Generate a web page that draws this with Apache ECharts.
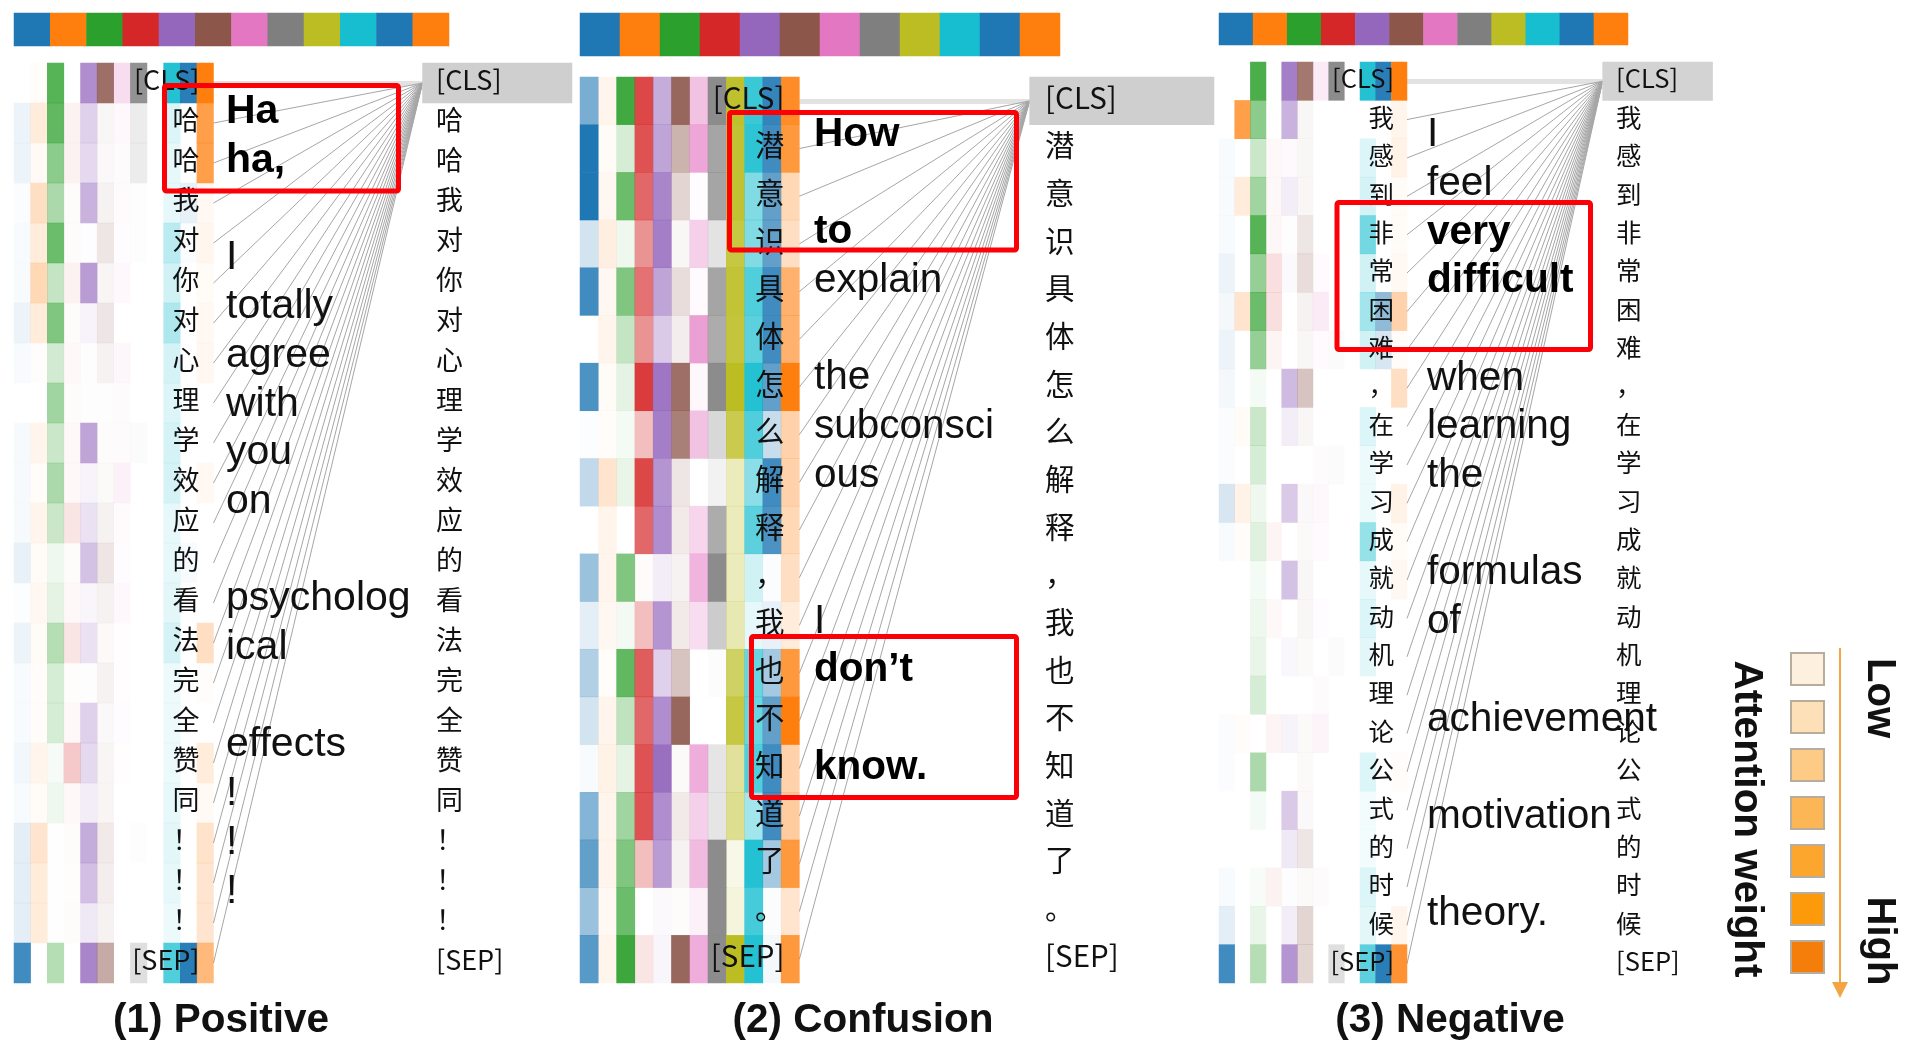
<!DOCTYPE html>
<html><head><meta charset="utf-8">
<style>html,body{margin:0;padding:0;background:#fff}#c{width:1910px;height:1049px}</style>
<script src="https://cdn.jsdelivr.net/npm/echarts@6/dist/echarts.min.js"></script>
</head><body><div id="c"></div>
<script>
const tabColors = ['#1f77b4','#ff7f0e','#2ca02c','#d62728','#9467bd','#8c564b','#e377c2','#7f7f7f','#bcbd22','#17becf','#1f77b4','#ff7f0e'];
const columnNames = ['c0','c1','c2','c3','c4','c5','c6','c7','c8','c9','c10','c11'];

const positiveTokens = ['[CLS]','哈','哈','我','对','你','对','心','理','学','效','应','的','看','法','完','全','赞','同','！','！','！','[SEP]'];
const positiveWords = ['Ha','ha,','','I','totally','agree','with','you','on','','psycholog','ical','','effects','!','!','!'];
const positiveBold = ['Ha','ha,'];
const positiveWeights = [
[0,2,80,0,75,85,25,85,0,95,95,100],
[8,15,75,6,30,5,5,15,0,15,0,75],
[8,4,55,6,25,4,3,15,0,10,0,75],
[2,25,40,2,50,8,3,1,0,10,10,5],
[3,15,70,2,2,15,2,1,0,30,2,7],
[3,30,28,6,65,6,5,0,0,20,0,3],
[8,15,60,2,8,15,0,0,0,35,0,5],
[3,1,22,3,1,8,6,0,0,18,0,6],
[0,0,45,2,1,1,3,0,0,15,0,0],
[4,8,25,3,60,2,3,3,0,18,0,0],
[4,2,40,3,8,3,10,0,0,18,0,5],
[4,8,25,12,20,8,3,0,0,10,0,0],
[10,3,8,2,40,15,2,0,0,10,3,0],
[1,6,12,3,6,8,5,0,0,12,0,0],
[8,3,35,12,20,3,1,0,0,18,0,25],
[3,2,20,1,1,8,1,0,0,8,0,1],
[3,2,20,3,30,4,2,0,0,8,0,0],
[6,8,4,25,25,6,1,0,0,8,0,15],
[3,3,8,3,12,6,0,0,0,10,0,4],
[12,20,1,2,55,12,0,1,0,12,0,22],
[12,15,1,1,42,10,0,0,0,10,0,20],
[12,15,1,2,15,8,0,0,0,8,0,20],
[85,0,35,0,80,50,0,25,0,75,95,55]];

const confusionTokens = ['[CLS]','潜','意','识','具','体','怎','么','解','释','，','我','也','不','知','道','了','。','[SEP]'];
const confusionWords = ['How','','to','explain','','the','subconsci','ous','','','I','don’t','','know.'];
const confusionBold = ['How','to','don’t','know.'];
const confusionWeights = [
[60,8,90,85,55,90,45,90,95,85,90,90],
[100,3,20,80,60,45,65,70,92,90,85,80],
[100,6,70,70,80,25,2,70,92,55,70,30],
[20,12,8,50,85,5,35,22,85,55,70,25],
[85,6,60,65,60,20,4,70,90,75,85,60],
[0,8,28,50,35,10,70,65,88,70,85,60],
[80,3,12,90,90,85,5,90,100,95,70,100],
[1,2,5,30,85,75,45,30,80,75,25,35],
[28,20,10,85,70,15,0,10,30,50,85,35],
[0,8,0,70,75,12,30,65,30,70,80,30],
[45,8,60,2,12,8,55,90,30,20,2,25],
[12,6,6,30,70,12,25,40,35,10,10,15],
[35,2,75,75,30,35,0,2,70,65,40,80],
[20,8,30,70,75,90,0,0,85,65,70,100],
[3,10,12,80,95,3,60,20,45,75,85,35],
[55,8,45,80,75,12,35,20,50,40,85,40],
[70,8,60,30,65,8,50,90,10,95,40,80],
[45,5,70,0,4,2,10,90,15,80,2,20],
[75,8,92,12,6,90,60,90,100,95,5,80]];

const negativeTokens = ['[CLS]','我','感','到','非','常','困','难','，','在','学','习','成','就','动','机','理','论','公','式','的','时','候','[SEP]'];
const negativeWords = ['I','feel','very','difficult','','when','learning','the','','formulas','of','','achievement','','motivation','','theory.'];
const negativeBold = ['very','difficult'];
const negativeWeights = [
[0,0,85,0,85,80,15,90,0,95,95,100],
[0,75,55,0,50,5,0,0,0,0,0,8],
[3,0,25,3,3,5,0,0,0,15,0,10],
[3,15,45,3,12,5,0,0,0,18,0,3],
[3,0,80,4,1,15,0,0,0,60,0,3],
[8,0,50,15,4,20,4,0,0,20,0,5],
[5,20,70,15,0,8,15,0,0,40,50,35],
[8,0,50,5,0,5,4,3,0,20,18,2],
[5,0,5,0,45,35,0,0,0,0,0,25],
[2,3,25,0,12,5,0,0,0,15,0,0],
[2,0,20,0,0,0,3,3,0,8,0,0],
[18,10,8,0,35,4,5,0,0,8,0,10],
[3,2,15,5,0,3,4,0,0,45,0,3],
[0,0,5,0,40,5,0,0,0,10,0,6],
[0,0,8,3,0,5,2,0,0,15,0,0],
[0,0,10,0,5,3,0,3,0,12,0,0],
[0,0,20,0,0,0,3,0,0,0,0,0],
[2,2,0,5,8,3,8,0,0,0,0,0],
[2,0,40,0,0,3,0,0,0,15,0,2],
[0,0,5,0,35,4,0,0,0,5,0,0],
[0,0,0,0,15,15,0,0,0,5,0,0],
[3,0,3,6,2,3,3,0,0,15,0,0],
[12,0,10,0,12,25,0,0,0,12,0,8],
[85,0,35,0,70,25,0,25,0,70,95,85]];

const legendLevels = ['l1','l2','l3','l4','l5','l6','l7'];
const legendColors = ['#fdf0de','#fddfb8','#fdcb85','#fdb655','#fca62e','#fc9a0c','#f57d0a'];

const panelTitles = ['(1) Positive','(2) Confusion','(3) Negative'];
const legendTitle = 'Attention weight';
const legendLow = 'Low';
const legendHigh = 'High';

// Layout (pixels) for each panel
const panels = [
 {title:panelTitles[0],cx:216,tokens:positiveTokens,words:positiveWords,bold:positiveBold,w:positiveWeights,
  pal:[14,13,435,33],heat:[14,63,199.5,920],fanR:422.5,right:[422.5,149.5],rightCol:'#cfcfcf',
  word:[226,87.6,828],fs:27,wfs:41,heatM:14,rightM:13.5,lift:3},
 {title:panelTitles[1],cx:858,tokens:confusionTokens,words:confusionWords,bold:confusionBold,w:confusionWeights,
  pal:[580,13,480,43],heat:[580,77,219.4,906],fanR:1029.6,right:[1029.6,184.4],rightCol:'#cfcfcf',
  word:[814,110.1,682],fs:29.5,wfs:40.5,heatM:15,rightM:15.5,lift:3.5},
 {title:panelTitles[2],cx:1445,tokens:negativeTokens,words:negativeWords,bold:negativeBold,w:negativeWeights,
  pal:[1219,13,409,32],heat:[1219,62,188,921],fanR:1602.6,right:[1602.6,110],rightCol:'#d3d3d3',
  word:[1427,110.6,828],fs:25.5,wfs:40.6,heatM:13,rightM:13.5,lift:2.5}
];
const CJK = '"Noto Sans CJK SC","Noto Sans",sans-serif';
const LAT = '"Liberation Sans",Arial,sans-serif';

const grids=[],xAxes=[],yAxes=[],series=[],titles=[];
function addGrid(l,t,w,h,xa,ya){
  grids.push({left:l,top:t,width:w,height:h,containLabel:false,outerBoundsMode:'none'});
  const i=grids.length-1;
  xAxes.push(Object.assign({gridIndex:i,show:false},xa));
  yAxes.push(Object.assign({gridIndex:i,inverse:true,axisLine:{show:false},axisTick:{show:false},splitLine:{show:false}},ya));
  return i;
}
function rgbaOf(hex,p){
  const n=parseInt(hex.slice(1),16);
  return 'rgba('+(n>>16)+','+((n>>8)&255)+','+(n&255)+','+(p/100)+')';
}
const quiet={silent:true,animation:false,emphasis:{disabled:true}};
panels.forEach(p=>{
  // palette row
  let g=addGrid(p.pal[0],p.pal[1],p.pal[2],p.pal[3],{type:'category',data:columnNames},{type:'category',data:['base'],show:false});
  series.push(Object.assign({type:'heatmap',xAxisIndex:g,yAxisIndex:g,z:2,
    data:tabColors.map((c,i)=>({value:[i,0,100],itemStyle:{color:c}}))},quiet));
  // fan of links left tokens -> [CLS]
  const hr=p.heat[0]+p.heat[2];
  g=addGrid(hr,p.heat[1],p.fanR-hr,p.heat[3],{type:'value',min:0,max:1},{type:'category',data:p.tokens,show:false});
  series.push(Object.assign({type:'lines',coordinateSystem:'cartesian2d',xAxisIndex:g,yAxisIndex:g,z:1,
    data:p.tokens.slice(0,1).map((t,i)=>({coords:[[0,i],[1,0]]})),
    lineStyle:{color:'#e2e2e2',width:5,opacity:1}},quiet));
  series.push(Object.assign({type:'lines',coordinateSystem:'cartesian2d',xAxisIndex:g,yAxisIndex:g,z:2,
    data:p.tokens.map((t,i)=>({coords:[[0,i],[1,0]]})).slice(1),
    lineStyle:{color:'#a6a6a6',width:1,opacity:1}},quiet));
  // attention heat map
  g=addGrid(p.heat[0],p.heat[1],p.heat[2],p.heat[3],{type:'category',data:columnNames},
    {type:'category',data:p.tokens,show:false});
  const cells=[];
  p.w.forEach((row,r)=>row.forEach((v,c)=>{ if(v>0) cells.push({value:[c,r,v],itemStyle:{color:rgbaOf(tabColors[c],v)}}); }));
  series.push(Object.assign({type:'heatmap',xAxisIndex:g,yAxisIndex:g,z:2,data:cells},quiet));
  // left token labels
  addGrid(p.heat[0],p.heat[1]-p.lift,p.heat[2],p.heat[3],{type:'category',data:columnNames},
    {type:'category',data:p.tokens,position:'right',z:6,
     axisLabel:{show:true,inside:true,interval:0,margin:p.heatM,fontFamily:CJK,fontSize:p.fs,color:'#111'}});
  // gray [CLS] cell of the right column
  g=addGrid(p.right[0],p.heat[1],p.right[1],p.heat[3],{type:'category',data:['cls']},
    {type:'category',data:p.tokens,show:false});
  series.push(Object.assign({type:'heatmap',xAxisIndex:g,yAxisIndex:g,z:2,
    data:[{value:[0,0,1],itemStyle:{color:p.rightCol}}]},quiet));
  // right token labels
  addGrid(p.right[0],p.heat[1]-p.lift,p.right[1],p.heat[3],{type:'category',data:['cls']},
    {type:'category',data:p.tokens,position:'left',z:6,
     axisLabel:{show:true,inside:true,interval:0,margin:p.rightM,fontFamily:CJK,fontSize:p.fs,color:'#111'}});
  // English translation words
  addGrid(p.word[0],p.word[1],300,p.word[2],{type:'value',min:0,max:1},
    {type:'category',data:p.words,position:'left',z:7,
     axisLabel:{show:true,inside:true,interval:0,margin:0,fontFamily:LAT,fontSize:p.wfs,color:'#111',
       formatter:v=>p.bold.includes(v)?'{b|'+v+'}':v,
       rich:{b:{fontFamily:LAT,fontSize:p.wfs,fontWeight:'bold',color:'#000'}}}});
  titles.push({text:p.title,left:p.cx,top:995,textAlign:'center',
    textStyle:{fontFamily:LAT,fontSize:40.5,fontWeight:'bold',color:'#111'}});
});
// colour legend
const lg=addGrid(1790,645,35,336,{type:'category',data:['key']},{type:'category',data:legendLevels,show:false});
series.push(Object.assign({type:'scatter',xAxisIndex:lg,yAxisIndex:lg,symbol:'rect',symbolSize:[33,32],z:3,
  data:legendLevels.map((l,i)=>({value:[0,i],itemStyle:{color:legendColors[i],opacity:1,borderColor:'#b8ad9d',borderWidth:2}}))},quiet));

const redBox=(x1,y1,x2,y2)=>({type:'rect',z:50,silent:true,
  shape:{x:x1+2.5,y:y1+2.5,width:x2-x1-5,height:y2-y1-5,r:2},
  style:{fill:null,stroke:'#fb0007',lineWidth:5}});
const vText=(t,x,y,fs)=>({type:'text',z:40,silent:true,x:x,y:y,rotation:-Math.PI/2,
  style:{text:t,fontFamily:LAT,fontSize:fs,fontWeight:'bold',fill:'#111',align:'center',verticalAlign:'middle'}});
const graphic=[
  redBox(162,83,401,193.5),redBox(727,110,1019,252.5),redBox(749,634,1019,800),redBox(1334.5,200,1593,352),
  {type:'line',z:30,silent:true,shape:{x1:1840,y1:648,x2:1840,y2:985},style:{stroke:'#f3a543',lineWidth:2}},
  {type:'polygon',z:30,silent:true,shape:{points:[[1832,982],[1848,982],[1840,998]]},style:{fill:'#f3a543'}},
  vText(legendTitle,1746,819,40.5),vText(legendLow,1879,698,40),vText(legendHigh,1879,941,40)
];

const chart=echarts.init(document.getElementById('c'),null,{renderer:'canvas'});
chart.setOption({backgroundColor:'#fff',animation:false,tooltip:{show:false},legend:{show:false},
  title:titles,grid:grids,xAxis:xAxes,yAxis:yAxes,series:series,graphic:graphic});
</script></body></html>
